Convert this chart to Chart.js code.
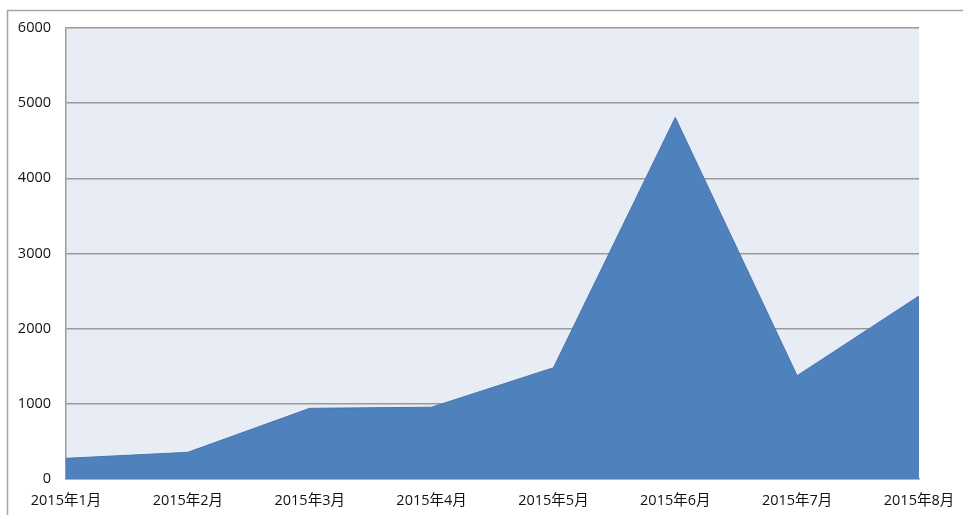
<!DOCTYPE html>
<html>
<head>
<meta charset="utf-8">
<script src="https://cdn.jsdelivr.net/npm/chart.js@4/dist/chart.umd.min.js"></script>
<style>
  html, body { margin: 0; padding: 0; background: #fff; }
  #wrap { width: 963px; height: 515px; }
</style>
</head>
<body>
<div id="wrap"><canvas id="area-chart"></canvas></div>
<script>
'use strict';
// data
var months = ["2015年1月", "2015年2月", "2015年3月", "2015年4月", "2015年5月", "2015年6月", "2015年7月", "2015年8月"];
var counts = [275, 355, 940, 955, 1480, 4810, 1375, 2435];
var yMin = 0, yMax = 6000, yStep = 1000;

var FONT = '"Open Sans", "Noto Sans CJK JP", sans-serif';

// outer frame + plot background, excel style
var framePlugin = {
  id: 'frame',
  beforeDraw: function (chart) {
    var ctx = chart.ctx;
    var a = chart.chartArea;
    ctx.save();
    ctx.fillStyle = '#fff';
    ctx.fillRect(0, 0, chart.width, chart.height);
    ctx.strokeStyle = '#a6a6a6';
    ctx.lineWidth = 1.5;
    ctx.beginPath();
    ctx.moveTo(7.5, chart.height);
    ctx.lineTo(7.5, 10.5);
    ctx.lineTo(chart.width, 10.5);
    ctx.stroke();
    ctx.fillStyle = '#e8ecf4';
    ctx.fillRect(a.left, a.top, a.right - a.left, a.bottom - a.top);
    ctx.restore();
  }
};

createAreaChart();

function createAreaChart() {
  var ctx = document.getElementById('area-chart');
  new Chart(ctx, {
    type: 'line',
    data: {
      labels: months,
      datasets: [
        {
          data: counts,
          fill: 'origin',
          backgroundColor: '#4f81bd',
          borderColor: '#4876ae',
          borderWidth: 1,
          pointRadius: 0,
          tension: 0
        }
      ]
    },
    options: {
      responsive: true,
      maintainAspectRatio: false,
      animation: false,
      layout: { padding: { top: 28, right: 44, left: 0, bottom: 0 } },
      plugins: {
        legend: { display: false },
        tooltip: { enabled: false }
      },
      scales: {
        x: {
          offset: false,
          grid: { display: false, drawTicks: false },
          border: { display: true, color: '#9a9a9a', width: 1.5 },
          ticks: {
            color: '#111',
            font: { family: FONT, size: 14.5 },
            padding: 13,
            maxRotation: 0,
            autoSkip: false
          },
          afterFit: function (scale) {
            scale.height = 36;
            scale.paddingLeft = 0;
            scale.paddingRight = 0;
          }
        },
        y: {
          min: yMin,
          max: yMax,
          grid: { color: '#9a9a9a', lineWidth: 1.5, drawTicks: false },
          border: { display: true, color: '#9a9a9a', width: 1.5 },
          ticks: {
            stepSize: yStep,
            color: '#111',
            font: { family: FONT, size: 14.5 },
            padding: 15,
            callback: function (v) { return String(v); }
          },
          afterFit: function (scale) {
            scale.width = 66;
            scale.paddingTop = 0;
            scale.paddingBottom = 0;
          }
        }
      }
    },
    plugins: [framePlugin]
  });
}
</script>
</body>
</html>
